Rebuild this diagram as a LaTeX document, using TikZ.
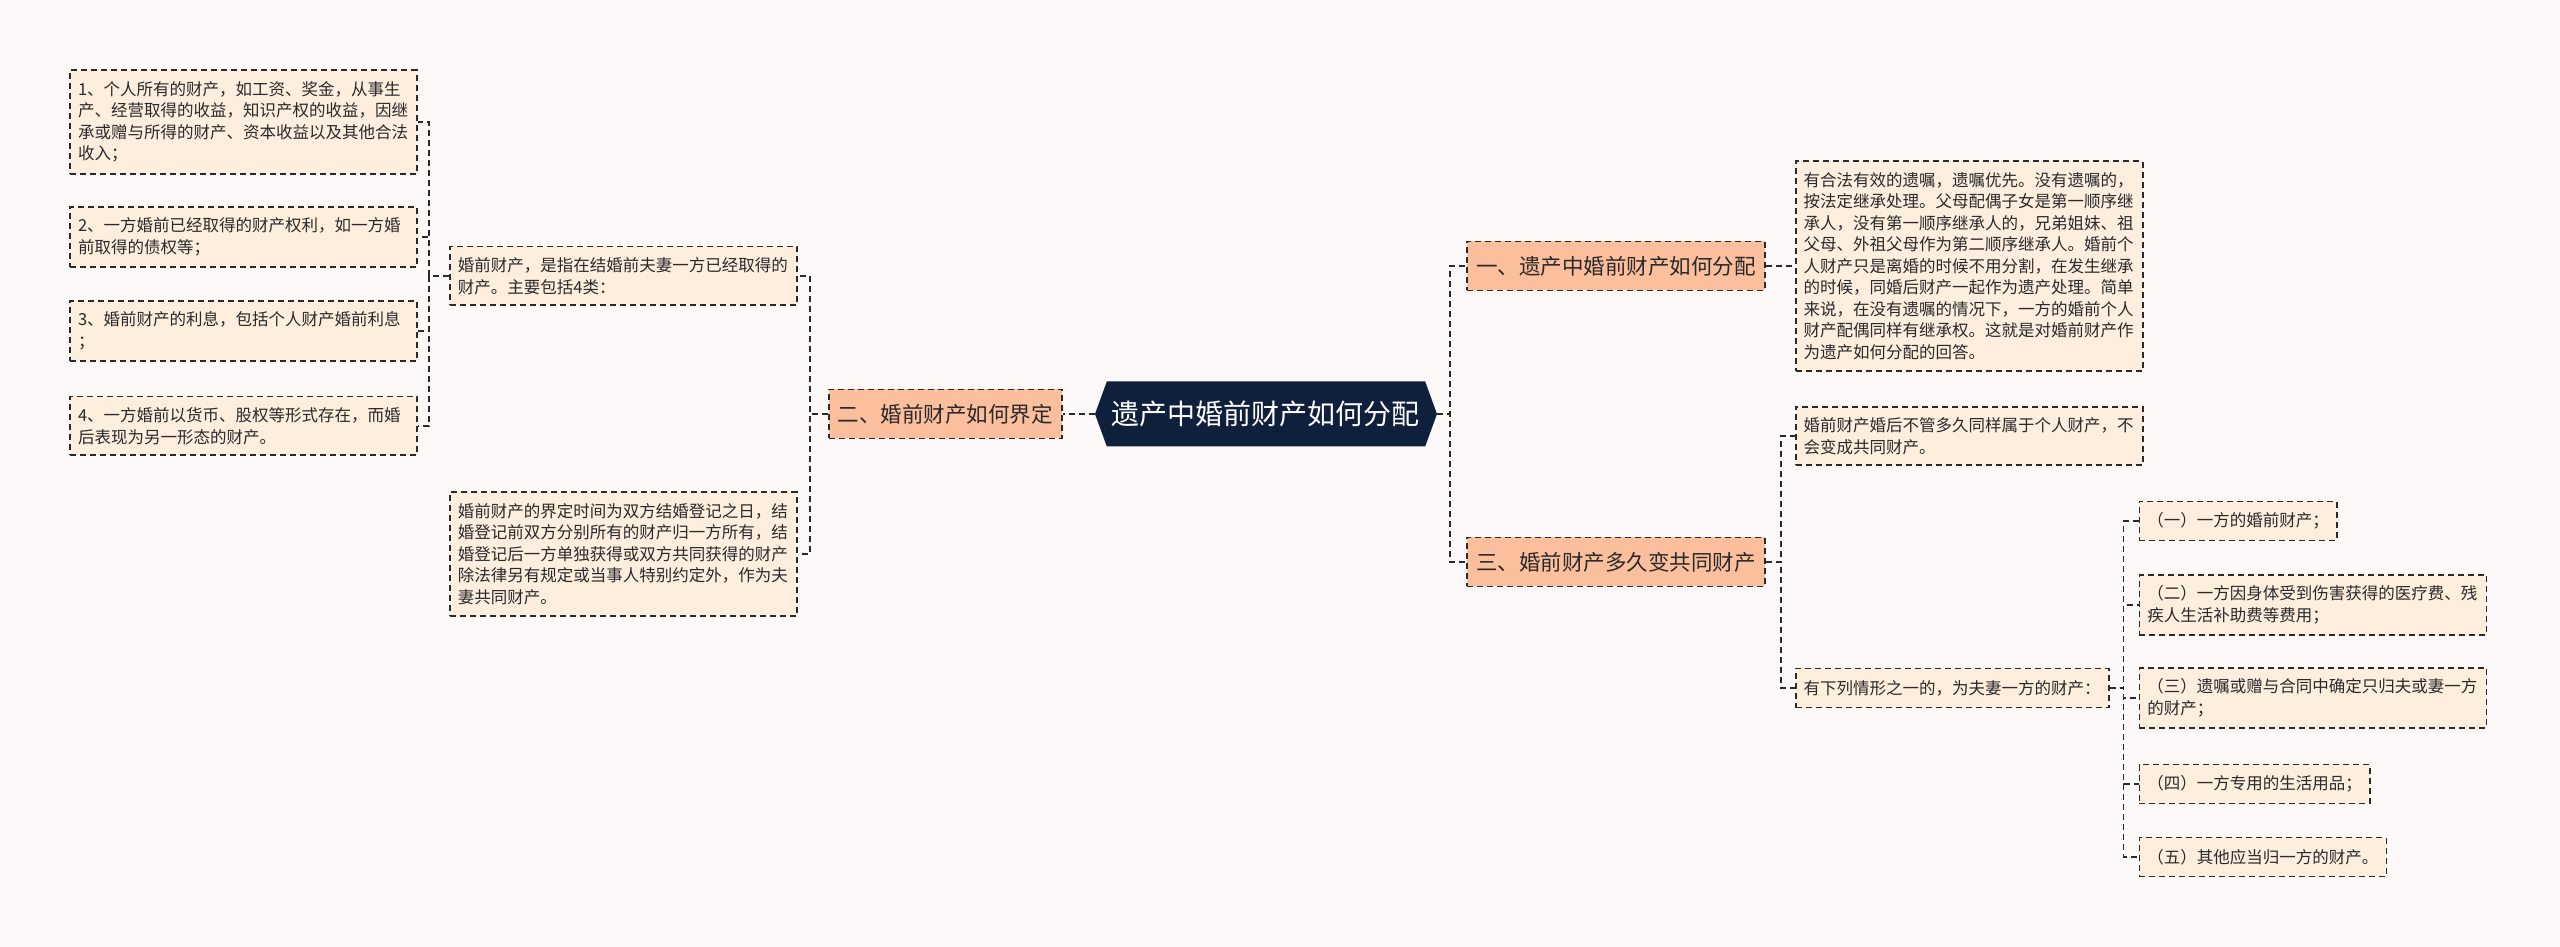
\documentclass[tikz,border=0pt]{standalone}
\usepackage{fontspec}
\setmainfont{Noto Sans CJK SC}
\usetikzlibrary{positioning,shapes.symbols}
\definecolor{bgc}{HTML}{FCF9F8}
\definecolor{hubc}{HTML}{0F203C}
\definecolor{topicc}{HTML}{FCBF9E}
\definecolor{leafc}{HTML}{FEEEDE}
\definecolor{inkc}{HTML}{2A2A2A}

\begin{document}
\begin{tikzpicture}[x=1pt,y=1pt,
						hub/.style={shape=signal,signal to=west and east,signal pointer angle=140,fill=hubc,text=white,font=\fontsize{28}{32}\selectfont,minimum width=342pt,minimum height=65pt,inner xsep=0pt},
						topic/.style={rectangle,fill=topicc,draw=inkc,line width=1.9pt,dash pattern=on 6pt off 4pt,text=inkc,font=\fontsize{21.5}{26}\selectfont,inner xsep=9pt,minimum height=49pt},
						leaf/.style={rectangle,fill=leafc,draw=inkc,line width=1.9pt,dash pattern=on 6pt off 4pt,text=inkc,font=\fontsize{16.5}{21.5}\selectfont,inner xsep=8pt,inner ysep=11pt,minimum height=39pt,align=left},
						para/.style={leaf,text width=331pt},
						conn/.style={draw=inkc,line width=1.9pt,dash pattern=on 6pt off 4pt}]
		\useasboundingbox (-1266,-533) rectangle (1294,414);
		\fill[bgc] (-1266,-533) rectangle (1294,414);

		\node[hub]																(0)		{遗产中婚前财产如何分配};
		\node[topic,node distance=32pt,left=of 0]								(2)		{二、婚前财产如何界定};
		\node[para,node distance=30pt,left=of 2,yshift=138pt]					(21)	{婚前财产，是指在结婚前夫妻一方已经取得的\\财产。主要包括4类：};
		\node[para,node distance=30pt,left=of 2,yshift=-140pt]					(22)	{婚前财产的界定时间为双方结婚登记之日，结\\婚登记前双方分别所有的财产归一方所有，结\\婚登记后一方单独获得或双方共同获得的财产\\除法律另有规定或当事人特别约定外，作为夫\\妻共同财产。};
		\node[para,node distance=31pt,left=of 21,yshift=154pt]					(211)	{1、个人所有的财产，如工资、奖金，从事生\\产、经营取得的收益，知识产权的收益，因继\\承或赠与所得的财产、资本收益以及其他合法\\收入；};
		\node[para,node distance=31pt,left=of 21,yshift=39pt]					(212)	{2、一方婚前已经取得的财产权利，如一方婚\\前取得的债权等；};
		\node[para,node distance=31pt,left=of 21,yshift=-55pt]					(213)	{3、婚前财产的利息，包括个人财产婚前利息\\；};
		\node[para,node distance=31pt,left=of 21,yshift=-150pt]					(214)	{4、一方婚前以货币、股权等形式存在，而婚\\后表现为另一形态的财产。};
		\node[topic,node distance=29pt,right=of 0,yshift=148pt]					(1)		{一、遗产中婚前财产如何分配};
		\node[topic,node distance=29pt,right=of 0,yshift=-148pt]				(3)		{三、婚前财产多久变共同财产};
		\node[para,node distance=29pt,right=of 1]								(11)	{有合法有效的遗嘱，遗嘱优先。没有遗嘱的，\\按法定继承处理。父母配偶子女是第一顺序继\\承人，没有第一顺序继承人的，兄弟姐妹、祖\\父母、外祖父母作为第二顺序继承人。婚前个\\人财产只是离婚的时候不用分割，在发生继承\\的时候，同婚后财产一起作为遗产处理。简单\\来说，在没有遗嘱的情况下，一方的婚前个人\\财产配偶同样有继承权。这就是对婚前财产作\\为遗产如何分配的回答。};
		\node[para,node distance=29pt,right=of 3,yshift=126pt]					(31)	{婚前财产婚后不管多久同样属于个人财产，不\\会变成共同财产。};
		\node[leaf,node distance=29pt,right=of 3,yshift=-126pt]					(32)	{有下列情形之一的，为夫妻一方的财产：};
		\node[leaf,node distance=29pt,right=of 32,yshift=167pt]					(321)	{（一）一方的婚前财产；};
		\node[para,node distance=29pt,right=of 32,yshift=83pt]					(322)	{（二）一方因身体受到伤害获得的医疗费、残\\疾人生活补助费等费用；};
		\node[para,node distance=29pt,right=of 32,yshift=-10pt]					(323)	{（三）遗嘱或赠与合同中确定只归夫或妻一方\\的财产；};
		\node[leaf,node distance=29pt,right=of 32,yshift=-96pt]					(324)	{（四）一方专用的生活用品；};
		\node[leaf,node distance=29pt,right=of 32,yshift=-169pt]				(325)	{（五）其他应当归一方的财产。};

		\draw[conn] (0.west) -- (2.east);
		\draw[conn] (2.west) -- ++(-18,0) |- (21.east);
		\draw[conn] (2.west) -- ++(-18,0) |- (22.east);
		\draw[conn] (21.west) -- ++(-20,0) |- (211.east);
		\draw[conn] (21.west) -- ++(-20,0) |- (212.east);
		\draw[conn] (21.west) -- ++(-20,0) |- (213.east);
		\draw[conn] (21.west) -- ++(-20,0) |- (214.east);
		\draw[conn] (0.east) -- ++(13,0) |- (1.west);
		\draw[conn] (0.east) -- ++(13,0) |- (3.west);
		\draw[conn] (1.east) -- (11.west);
		\draw[conn] (3.east) -- ++(15,0) |- (31.west);
		\draw[conn] (3.east) -- ++(15,0) |- (32.west);
		\draw[conn] (32.east) -- ++(14,0) |- (321.west);
		\draw[conn] (32.east) -- ++(14,0) |- (322.west);
		\draw[conn] (32.east) -- ++(14,0) |- (323.west);
		\draw[conn] (32.east) -- ++(14,0) |- (324.west);
		\draw[conn] (32.east) -- ++(14,0) |- (325.west);
	\end{tikzpicture}
\end{document}
